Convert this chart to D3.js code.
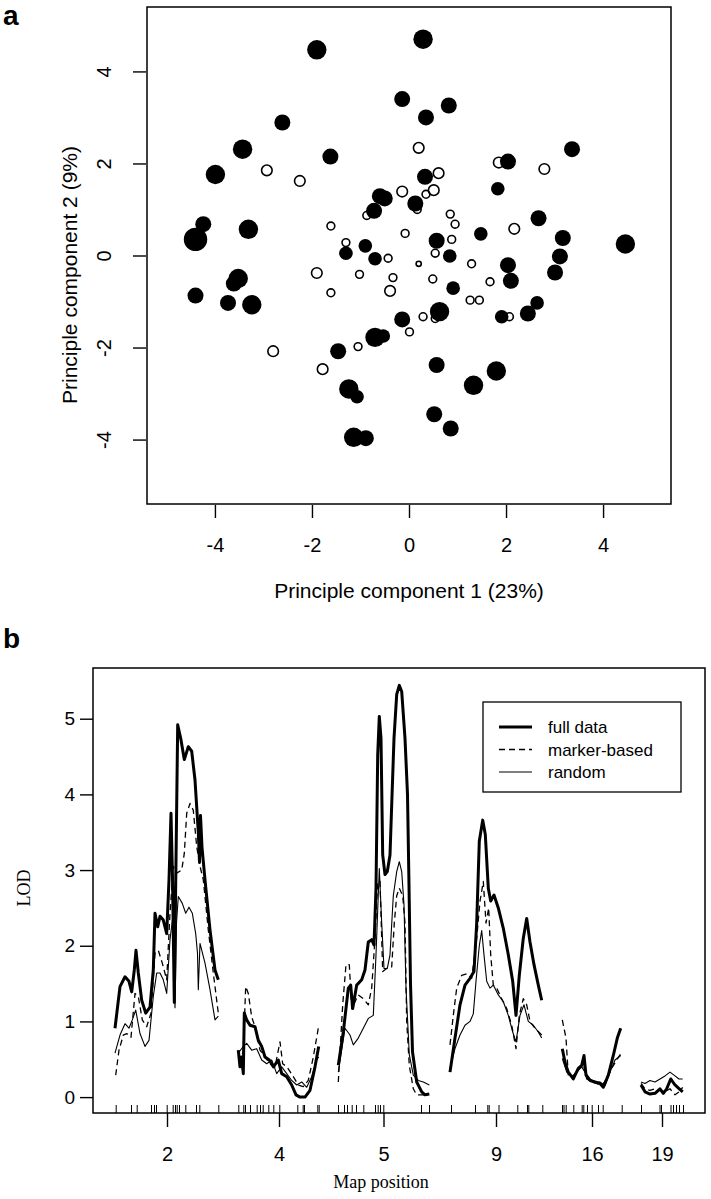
<!DOCTYPE html>
<html><head><meta charset="utf-8">
<script src="https://cdn.jsdelivr.net/npm/d3@7"></script>
<style>body{margin:0;background:#fff} svg{display:block}</style>
</head><body>
<svg id="c" width="711" height="1199"></svg>
<script>
// ---------- Panel a data ----------
const filledPC1 = [0.29,-1.90,-0.14,0.35,0.82,-2.61,-3.43,3.36,-1.62,-3.99,2.04,0.33,1.83,-0.60,-0.50,0.13,-0.72,-4.24,-3.31,-4.40,2.67,1.48,3.17,4.46,0.57,-0.90,-1.30,-0.70,0.84,2.04,3.11,3.01,2.10,0.91,2.64,2.45,1.91,0.63,-0.14,0.57,1.80,1.33,0.52,0.86,-4.40,-3.52,-3.61,-3.73,-3.24,-0.70,-0.53,-1.46,-1.24,-1.07,-1.14,-0.89];
const filledPC2 = [4.70,4.47,3.40,3.00,3.26,2.89,2.31,2.31,2.15,1.76,2.04,1.71,1.45,1.29,1.24,1.13,0.97,0.68,0.57,0.35,0.81,0.47,0.38,0.25,0.32,0.21,0.05,-0.07,-0.01,-0.21,-0.02,-0.37,-0.55,-0.71,-1.03,-1.26,-1.33,-1.22,-1.39,-2.38,-2.51,-2.82,-3.45,-3.76,-0.87,-0.50,-0.61,-1.03,-1.07,-1.78,-1.75,-2.08,-2.90,-3.07,-3.95,-3.97];
const filledWeight = [6,6,5,5,5,5,6,5,5,6,5,5,4,5,5,5,5,5,6,7,5,4,5,6,5,4,4,4,4,5,5,5,5,4,4,5,4,6,5,5,6,6,5,5,5,6,5,5,6,6,4,5,6,4,6,5];
const openPC1 = [-2.93,-2.25,0.20,0.61,-0.14,0.35,0.51,0.17,-0.87,1.85,2.79,0.85,0.95,2.17,0.88,-1.61,-0.08,-1.30,-0.43,0.54,0.20,1.29,0.49,1.67,1.26,1.45,2.07,0.54,0.29,0.01,-1.90,-1.02,-0.33,-1.61,-0.39,-1.05,-2.80,-1.78];
const openPC2 = [1.85,1.62,2.34,1.79,1.39,1.33,1.42,1.00,0.87,2.02,1.88,0.90,0.68,0.58,0.35,0.64,0.48,0.28,-0.06,0.05,-0.18,-0.18,-0.51,-0.57,-0.97,-0.97,-1.33,-1.37,-1.33,-1.66,-0.38,-0.41,-0.48,-0.81,-0.77,-1.98,-2.08,-2.47];
const openWeight = [3,3,3,3,3,2,3,2,2,3,3,2,2,3,2,2,2,2,2,2,1,2,2,2,2,2,2,2,2,2,3,2,2,2,3,2,3,3];
const pcTicks = [-4,-2,0,2,4];

// ---------- Panel b data ----------
const chromNames = ["2","4","5","9","16","19"];
const chromCentres = [74,186,290.5,403,499,569];
const markerPos = [22.7,38,43.7,58,61,63,73.7,79.7,82,83.7,86,92.3,103,106.3,125.3,
 145.3,150.3,152,157,163.7,167,169.7,175.3,180.3,186.3,204.3,209.7,211,224.3,225.7,
 245,251,254,258.7,263,270.3,282,284.7,287,290.3,328,336,
 358,382,394.3,395.7,405.5,424.3,434,435.3,449.3,
 469,470.5,472.7,480.3,488.7,490.3,494,498.7,505,509.7,528.7,
 548,566.5,568,577.5,580,583,586,590];
const lodTicks = [0,1,2,3,4,5];

const fullData = [
 [[22,0.91],[27,1.46],[32,1.59],[36,1.53],[38.7,1.39],[41.3,1.68],[43,1.94],[45.3,1.64],[48.7,1.28],[52.7,1.11],[57,1.19],[60.3,1.68],[62,2.43],[64.7,2.25],[67,2.39],[70.3,2.34],[73.7,2.16],[76,2.87],[78,3.75],[79.5,2.9],[81.3,1.25],[82.5,2.6],[84.7,4.92],[88,4.72],[91.3,4.46],[95.3,4.63],[98.7,4.57],[102,4.19],[105.3,3.5],[106.5,3.1],[107.5,3.72],[109,3.3],[112,2.87],[117,2.21],[122,1.68],[125.3,1.55]],
 [[145.3,0.62],[147,0.40],[148.5,0.53],[150.3,0.31],[151.3,1.11],[153.7,1.02],[157,0.95],[162,0.93],[165.3,0.75],[168.7,0.67],[172,0.53],[176.3,0.49],[180.3,0.40],[185.3,0.49],[188.7,0.31],[193.7,0.27],[198.7,0.16],[203,0.03],[207,0.0],[212,0.0],[217,0.09],[222,0.40],[225.7,0.67]],
 [[245.3,0.42],[250.3,0.86],[255.3,1.44],[257.7,1.48],[259.7,1.17],[263.7,1.48],[268.7,1.55],[272,1.68],[275.3,2.05],[278.7,2.08],[281,2.01],[283,2.76],[284.7,4.52],[286.3,5.03],[288,4.74],[289.7,3.2],[292,2.94],[294.3,2.98],[297,3.2],[298.7,3.86],[301,4.74],[303.7,5.32],[306.3,5.44],[308.7,5.36],[312,4.74],[314.5,4.0],[316,2.8],[317.5,1.5],[319.5,0.6],[323.7,0.20],[328.7,0.07],[332,0.03],[336.3,0.04]],
 [[357,0.33],[362,0.78],[367,1.22],[372,1.48],[377,1.57],[381,1.66],[383.7,2.3],[386.3,3.38],[389.7,3.66],[392.3,3.47],[395.3,2.76],[397.7,2.59],[401,2.67],[405.3,2.5],[410.3,2.23],[415.3,1.88],[419.7,1.53],[423,1.08],[426.3,1.61],[430.3,2.1],[433.7,2.36],[437,2.05],[441,1.75],[445.3,1.48],[448.7,1.28]],
 [[469.3,0.64],[472,0.46],[475.3,0.33],[480.3,0.24],[485.3,0.38],[488.7,0.42],[491,0.55],[493,0.29],[497,0.22],[502,0.20],[507,0.18],[510.3,0.13],[515.3,0.29],[520.3,0.55],[524.3,0.78],[527.7,0.91]],
 [[548,0.16],[552,0.07],[557,0.04],[562,0.05],[567,0.11],[570.3,0.05],[573.7,0.11],[577.7,0.24],[582,0.16],[586.3,0.11],[589.7,0.07]]
];
const markerData = [
 [[22.7,0.29],[26,0.62],[30.3,0.82],[33.7,0.84],[38,0.79],[42,1.37],[45.3,1.33],[49.3,1.02],[53.7,0.93],[58,1.11],[62,1.90],[65.3,1.94],[69.3,1.77],[73.7,1.55],[77,2.43],[80.3,3.05],[83.7,2.96],[88.7,3.0],[91.3,3.22],[93.7,3.75],[97,3.88],[100.3,3.79],[103.7,3.31],[107,3.05],[110.3,2.87],[115.3,2.21],[120.3,1.64],[125.3,1.11]],
 [[147,0.44],[150.3,0.62],[152.7,1.46],[155.3,1.37],[158.7,1.06],[162,0.93],[167,0.62],[172,0.53],[177,0.44],[182,0.40],[187,0.73],[189.7,0.44],[194,0.40],[200.3,0.27],[205.3,0.16],[210.3,0.14],[215.3,0.22],[220.3,0.53],[225.3,0.91]],
 [[245.3,0.2],[249.7,1.22],[253,1.75],[256.3,1.75],[258.7,1.17],[262,1.26],[265.3,1.35],[270.3,1.30],[275.3,1.22],[278.7,1.44],[282,2.1],[284.7,2.85],[287,2.85],[289.7,1.66],[293.7,1.70],[298.7,1.72],[301.3,2.3],[303.7,2.66],[306.3,2.76],[309.7,2.66],[312,2.3],[313.7,1.0],[316.3,0.42],[320.3,0.11],[323.7,0.03],[328.7,0.03],[333.7,0.03]],
 [[357,0.69],[360.3,1.08],[363.7,1.44],[368.7,1.61],[373.7,1.63],[378.7,1.57],[383.7,2.1],[387,2.59],[390.3,2.85],[393,2.3],[395.7,2.5],[397.7,1.88],[400.3,1.48],[403.7,1.44],[408.7,1.30],[413.7,1.17],[418.7,0.95],[423,0.64],[426.3,1.08],[430.3,1.3],[433.7,1.22],[437,1.0],[442,0.91],[448.7,0.82]],
 [[469.3,1.02],[473,0.78],[475.3,0.29],[480.3,0.27],[485.3,0.38],[490.3,0.44],[493.7,0.24],[498.7,0.2],[503.7,0.18],[508.7,0.15],[513.7,0.24],[518.7,0.38],[523.7,0.49],[527.7,0.57]],
 [[548,0.18],[552,0.11],[557,0.09],[562,0.11],[567,0.09],[572,0.07],[577,0.11],[582,0.03],[586.3,0.07],[589.7,0.13]]
];
const randomData = [
 [[22,0.58],[27,0.82],[32,0.97],[36,0.91],[39.3,1.02],[42.7,1.15],[47,0.84],[52,0.67],[56,0.75],[60.3,1.33],[63.7,1.64],[67,1.64],[70.3,1.55],[73.7,1.37],[77,2.08],[80.3,2.43],[82,1.18],[83.5,2.3],[85.3,2.65],[89.3,2.56],[92.7,2.43],[96,2.51],[99.3,2.43],[102.7,2.16],[104.5,1.9],[105.3,1.42],[107,2.03],[112,1.77],[117,1.42],[122,1.02],[125.3,1.07]],
 [[145.3,0.58],[150.3,0.67],[153.7,0.71],[158.7,0.62],[163.7,0.64],[168.7,0.49],[173.7,0.44],[178.7,0.49],[183.7,0.31],[188.7,0.40],[193.7,0.31],[198.7,0.22],[203.7,0.16],[208.7,0.20],[213.7,0.13],[218.7,0.27],[223.7,0.49],[225.7,0.53]],
 [[245.3,0.33],[252,0.91],[257,0.82],[260.3,0.69],[265.3,0.78],[270.3,0.91],[275.3,1.04],[280.3,1.08],[283,1.88],[286.3,3.02],[288.7,2.3],[291,1.70],[294.3,1.70],[297,1.88],[300.3,2.66],[303.7,2.98],[306.3,3.11],[308.7,2.98],[311,2.54],[313,1.44],[316.3,0.56],[320.3,0.29],[325.3,0.22],[330.3,0.20],[336.3,0.16]],
 [[357,0.38],[362,0.64],[367,0.82],[372,0.95],[377,1.0],[380.3,1.10],[383,1.53],[386.3,2.0],[388.7,2.2],[391,1.88],[393.7,1.53],[397,1.44],[400.3,1.48],[405.3,1.35],[410.3,1.26],[415.3,1.08],[419.7,0.86],[423,0.73],[427,1.08],[431,1.22],[435.3,1.0],[440.3,0.95],[445.3,0.86],[448.7,0.78]],
 [[469.3,0.51],[473.7,0.33],[478.7,0.27],[483.7,0.33],[488.7,0.40],[492,0.33],[497,0.24],[502,0.20],[507,0.20],[512,0.15],[517,0.33],[522,0.49],[527.7,0.55]],
 [[548,0.20],[552,0.18],[557,0.22],[562,0.20],[567,0.24],[572,0.28],[577,0.33],[581,0.29],[586,0.24],[589.7,0.24]]
];
const legendLabels = ["full data","marker-based","random"];

// ---------- drawing ----------
const svg = d3.select("#c");
const SANS = "'Liberation Sans', Arial, sans-serif";
const SERIF = "'Liberation Serif', 'Times New Roman', serif";

// Panel a
const ax = d3.scaleLinear([-5.4,5.4],[147,671]);
const ay = d3.scaleLinear([-5.4,5.4],[504,7]);
const rScale = d3.scaleLinear([1,2,3,4,5,6,7],[3.4,4.7,6.1,6.8,8.0,9.7,11.7]);

svg.append("text").attr("x",3).attr("y",25).attr("font-family",SANS).attr("font-weight","bold").attr("font-size",28).text("a");

svg.append("rect").attr("x",147).attr("y",7).attr("width",524).attr("height",497)
  .attr("fill","none").attr("stroke","#000").attr("stroke-width",1.5);

const gax = svg.append("g").attr("transform","translate(0,505)")
  .call(d3.axisBottom(ax).tickValues(pcTicks).tickFormat(d3.format("d")).tickSize(13).tickPadding(20));
gax.select(".domain").remove();
gax.selectAll("line").attr("stroke-width",1.4);
gax.selectAll("text").attr("font-family",SANS).attr("font-size",20).attr("fill","#000")
  .text(d=>d<0?"-"+Math.abs(d):d);

const gay = svg.append("g").attr("transform","translate(146,0)")
  .call(d3.axisLeft(ay).tickValues(pcTicks).tickFormat(d3.format("d")).tickSize(13).tickPadding(0));
gay.select(".domain").remove();
gay.selectAll("line").attr("stroke-width",1.4);
gay.selectAll("text").attr("font-family",SANS).attr("font-size",20).attr("fill","#000")
  .attr("text-anchor","middle").attr("dy",null).attr("x",null)
  .attr("transform","translate(-42,0) rotate(-90)").attr("y",7)
  .text(d=>d<0?"-"+Math.abs(d):d);

svg.append("text").attr("x",409).attr("y",598).attr("text-anchor","middle")
  .attr("font-family",SANS).attr("font-size",21).text("Principle component 1 (23%)");
svg.append("text").attr("transform","translate(77,275) rotate(-90)").attr("text-anchor","middle")
  .attr("font-family",SANS).attr("font-size",21).text("Principle component 2 (9%)");

const openPts = openPC1.map((d,i)=>({x:d,y:openPC2[i],w:openWeight[i]}));
const filledPts = filledPC1.map((d,i)=>({x:d,y:filledPC2[i],w:filledWeight[i]}));
svg.append("g").selectAll("circle").data(openPts).join("circle")
  .attr("cx",d=>ax(d.x)).attr("cy",d=>ay(d.y)).attr("r",d=>rScale(d.w)-0.8)
  .attr("fill","none").attr("stroke","#000").attr("stroke-width",1.6);
svg.append("g").selectAll("circle").data(filledPts).join("circle")
  .attr("cx",d=>ax(d.x)).attr("cy",d=>ay(d.y)).attr("r",d=>rScale(d.w))
  .attr("fill","#000");

// Panel b
const bx = d3.scaleLinear([0,612],[93,705]);
const by = d3.scaleLinear([-0.21,5.67],[1113,668]);

svg.append("text").attr("x",3).attr("y",648).attr("font-family",SANS).attr("font-weight","bold").attr("font-size",28).text("b");

svg.append("rect").attr("x",93).attr("y",668).attr("width",612).attr("height",445)
  .attr("fill","none").attr("stroke","#000").attr("stroke-width",1.5);

const gby = svg.append("g").attr("transform","translate(93,0)")
  .call(d3.axisLeft(by).tickValues(lodTicks).tickFormat(d3.format("d")).tickSize(13).tickPadding(5));
gby.select(".domain").remove();
gby.selectAll("line").attr("stroke-width",1.4);
gby.selectAll("text").attr("font-family",SANS).attr("font-size",19).attr("fill","#000");

const gbx = svg.append("g").attr("transform","translate(0,1113)")
  .call(d3.axisBottom(bx).tickValues(chromCentres).tickFormat((d,i)=>chromNames[i]).tickSize(14).tickPadding(20));
gbx.select(".domain").remove();
gbx.selectAll("line").attr("stroke-width",1.4);
gbx.selectAll("text").attr("font-family",SANS).attr("font-size",20).attr("fill","#000");

const rug = svg.append("g").attr("transform","translate(0,1113)")
  .call(d3.axisTop(bx).tickValues(markerPos).tickFormat("").tickSize(8));
rug.select(".domain").remove();
rug.selectAll("line").attr("stroke-width",1);

svg.append("text").attr("transform","translate(30,888) rotate(-90)").attr("text-anchor","middle")
  .attr("font-family",SERIF).attr("font-size",18).text("LOD");
svg.append("text").attr("x",381).attr("y",1188).attr("text-anchor","middle")
  .attr("font-family",SERIF).attr("font-size",18).text("Map position");

const line = d3.line().x(d=>bx(d[0])).y(d=>by(d[1]));
const styles = [
  {w:3, dash:null},
  {w:1.3, dash:"6,4"},
  {w:1.1, dash:null}
];
[fullData, markerData, randomData].forEach((series,k)=>{
  svg.append("g").selectAll("path").data(series).join("path")
    .attr("d",line).attr("fill","none").attr("stroke","#000")
    .attr("stroke-width",styles[k].w).attr("stroke-dasharray",styles[k].dash)
    .attr("stroke-linejoin","round");
});

// legend
const lg = svg.append("g");
lg.append("rect").attr("x",483).attr("y",702).attr("width",198).attr("height",90)
  .attr("fill","#fff").attr("stroke","#000").attr("stroke-width",1.3);
legendLabels.forEach((t,i)=>{
  const yy = 727 + i*22.5;
  lg.append("line").attr("x1",499).attr("x2",532).attr("y1",yy).attr("y2",yy)
    .attr("stroke","#000").attr("stroke-width",styles[i].w).attr("stroke-dasharray",styles[i].dash);
  lg.append("text").attr("x",548).attr("y",yy+6).attr("font-family",SANS).attr("font-size",17).text(t);
});
</script>
</body></html>
